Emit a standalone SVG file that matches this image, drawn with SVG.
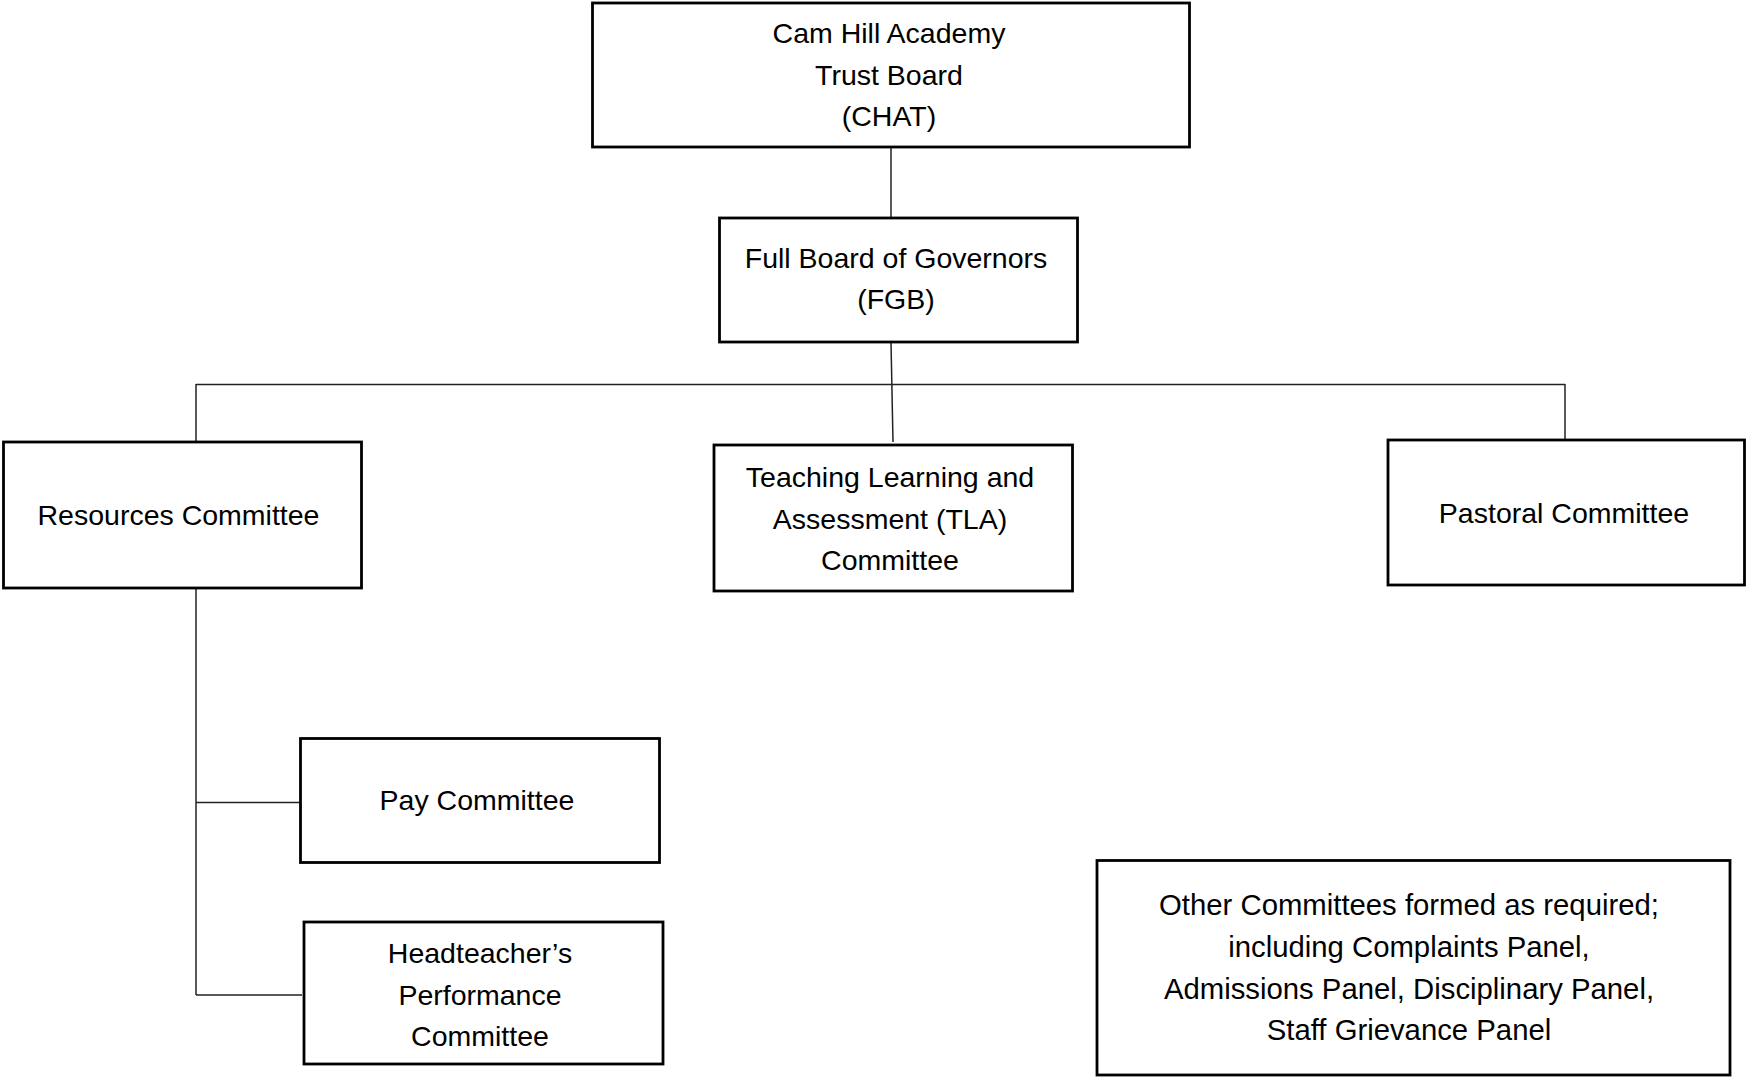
<svg xmlns="http://www.w3.org/2000/svg" width="1746" height="1078" viewBox="0 0 1746 1078">
<style>
.box{fill:#fff;stroke:#000;stroke-width:2.8}
.lbl{font-family:"Liberation Sans",Arial,sans-serif;font-size:28.5px;fill:#000;text-anchor:middle}
.wide{font-size:29.3px}
.conn line{stroke:#222;stroke-width:1.5}
</style>
<rect width="1746" height="1078" fill="#fff"/>
<g id="connectors" class="conn">
<line x1="891" y1="147" x2="891" y2="218"/>
<line x1="891" y1="342" x2="893" y2="442"/>
<line x1="196" y1="384.5" x2="1565" y2="384.5"/>
<line x1="196" y1="384" x2="196" y2="442"/>
<line x1="1565" y1="384" x2="1565" y2="440"/>
<line x1="196" y1="588" x2="196" y2="995"/>
<line x1="196" y1="802.5" x2="305" y2="802.5"/>
<line x1="196" y1="995" x2="302" y2="995"/>
</g>
<g id="chat">
<rect class="box" x="592.5" y="3" width="597" height="144"/>
<text class="lbl" x="889" y="43">Cam Hill Academy</text>
<text class="lbl" x="889" y="85">Trust Board</text>
<text class="lbl" x="889" y="126">(CHAT)</text>
</g>
<g id="fgb">
<rect class="box" x="719.5" y="218" width="358" height="124"/>
<text class="lbl" x="896" y="268">Full Board of Governors</text>
<text class="lbl" x="896" y="309">(FGB)</text>
</g>
<g id="resources">
<rect class="box" x="3.5" y="442" width="358" height="146"/>
<text class="lbl" x="178.5" y="525">Resources Committee</text>
</g>
<g id="tla">
<rect class="box" x="714" y="445" width="358.5" height="146"/>
<text class="lbl" x="890" y="487">Teaching Learning and</text>
<text class="lbl" x="890" y="529">Assessment (TLA)</text>
<text class="lbl" x="890" y="570">Committee</text>
</g>
<g id="pastoral">
<rect class="box" x="1388" y="440" width="356.5" height="145"/>
<text class="lbl" x="1564" y="523">Pastoral Committee</text>
</g>
<g id="pay">
<rect class="box" x="300.5" y="738.5" width="359" height="124"/>
<text class="lbl" x="477" y="810">Pay Committee</text>
</g>
<g id="headteacher">
<rect class="box" x="304" y="922" width="359" height="142"/>
<text class="lbl" x="480" y="963">Headteacher’s</text>
<text class="lbl" x="480" y="1005">Performance</text>
<text class="lbl" x="480" y="1046">Committee</text>
</g>
<g id="other">
<rect class="box" x="1097" y="860.5" width="633" height="214.5"/>
<text class="lbl wide" x="1409" y="915">Other Committees formed as required;</text>
<text class="lbl wide" x="1409" y="957">including Complaints Panel,</text>
<text class="lbl wide" x="1409" y="999">Admissions Panel, Disciplinary Panel,</text>
<text class="lbl wide" x="1409" y="1040">Staff Grievance Panel</text>
</g>
</svg>
